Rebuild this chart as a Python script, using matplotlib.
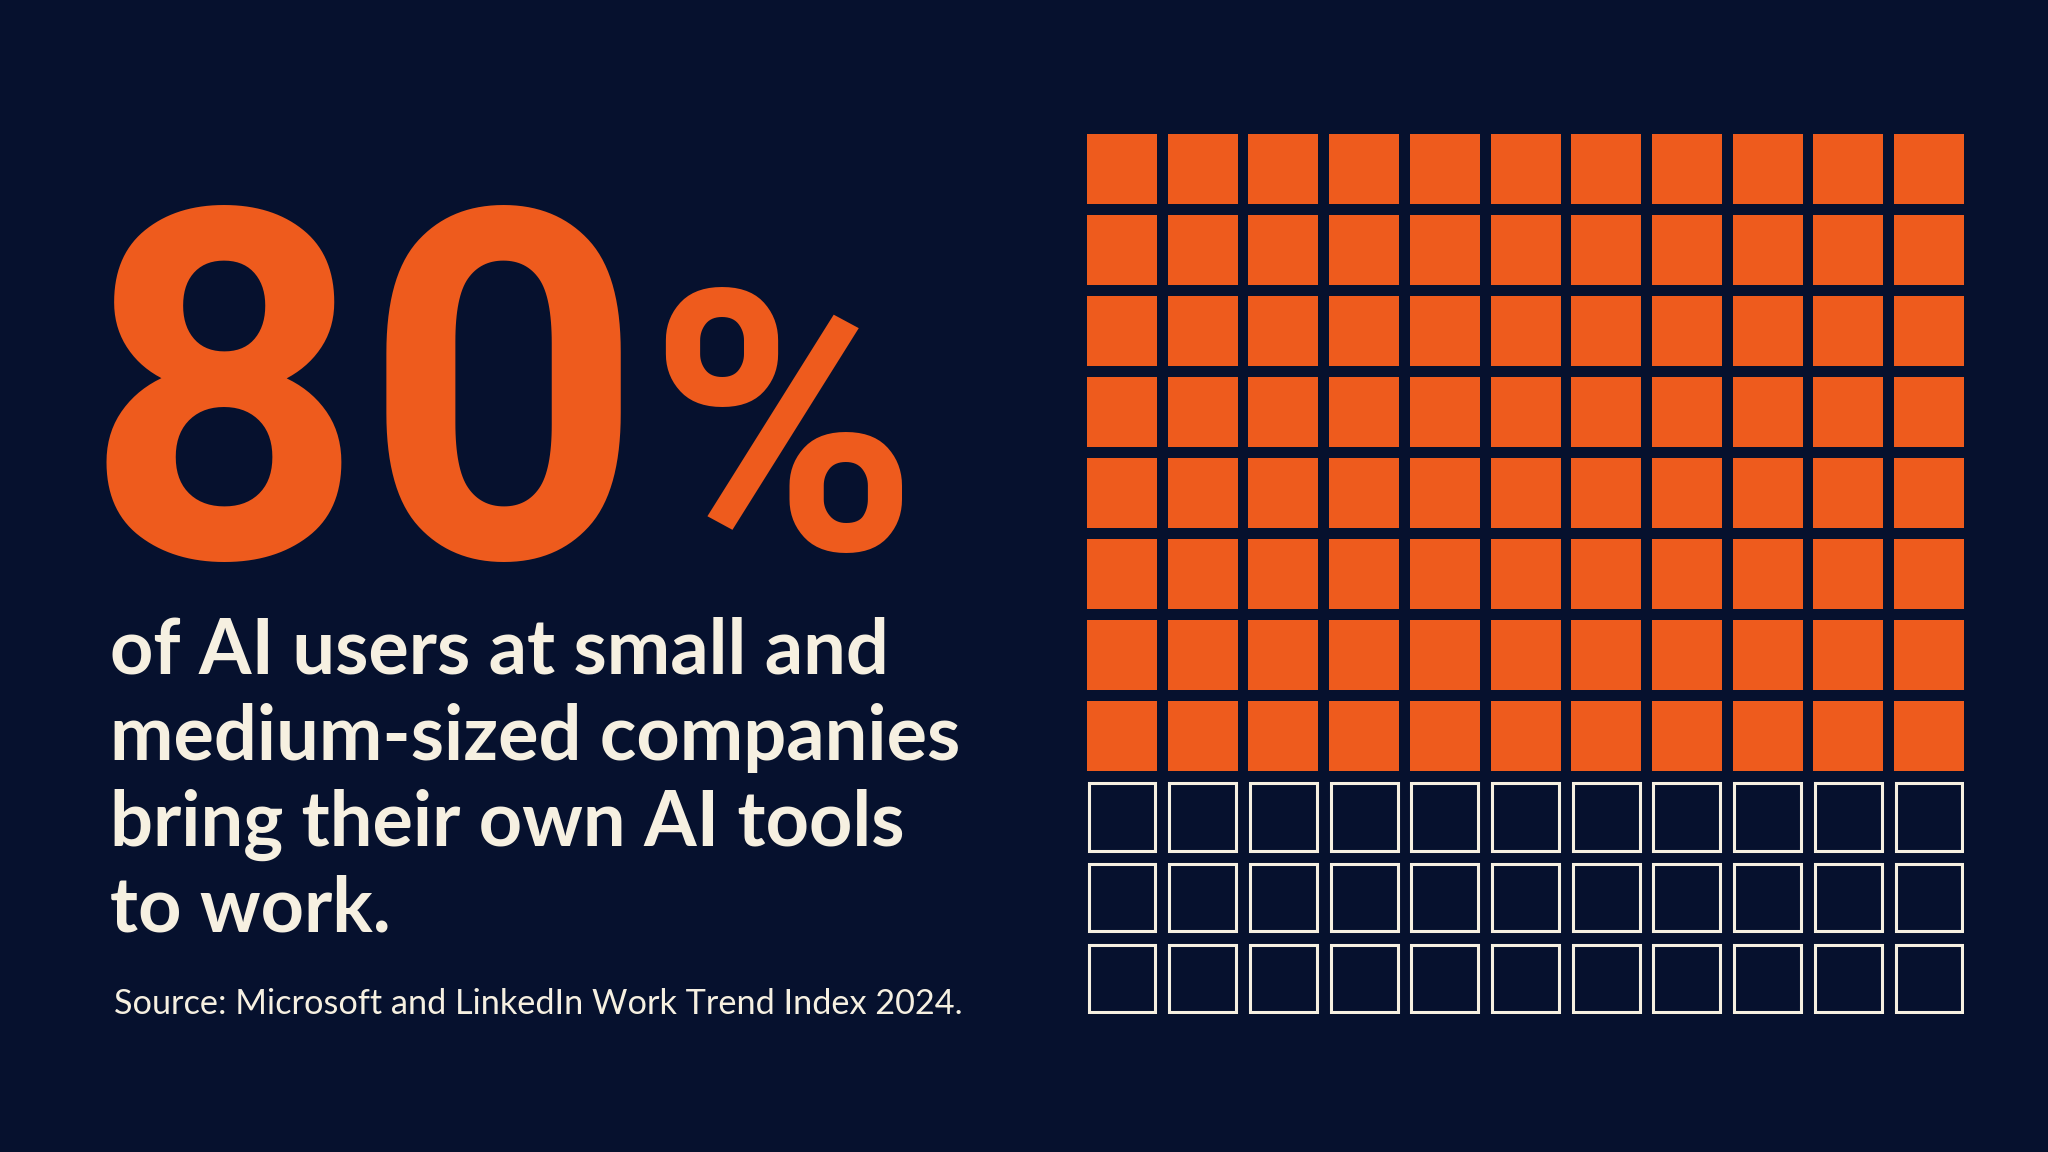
import matplotlib.pyplot as plt
from matplotlib.patches import Rectangle

# ---- data ----
headline_value = "80"
headline_unit = "%"
body_lines = [
    "of AI users at small and",
    "medium-sized companies",
    "bring their own AI tools",
    "to work.",
]
source_text = "Source: Microsoft and LinkedIn Work Trend Index 2024."
n_cols = 11
n_rows = 11
filled_cells = 88

# ---- style ----
BG = "#06112e"
ORANGE = "#ee5b1d"
CREAM = "#f6f0e1"
W, H = 2048, 1152

fig = plt.figure(figsize=(W / 100, H / 100), dpi=100)
fig.patch.set_facecolor(BG)


def fx(px):
    return px / W


def fy(py):
    return 1 - py / H


# big number
fig.text(fx(84), fy(557), headline_value, color=ORANGE, fontsize=352,
         fontfamily="Roboto", fontweight="bold", ha="left", va="baseline")
fig.text(fx(648), fy(549), headline_unit, color=ORANGE, fontsize=262,
         fontfamily="Roboto", fontweight="bold", ha="left", va="baseline")

# statement
line_pitch = 86
for i, line in enumerate(body_lines):
    fig.text(fx(110), fy(674 + i * line_pitch), line, color=CREAM, fontsize=54.5,
             fontfamily="Lato", fontweight="bold", ha="left", va="baseline")

fig.text(fx(114), fy(1014), source_text, color=CREAM, fontsize=24.7,
         fontfamily="Lato", ha="left", va="baseline")

# waffle grid
cell = 70 / 80.7
ax = fig.add_axes([fx(1087), fy(1014), fx(877), 880 / H])
ax.set_xlim(0, n_cols - 1 + cell)
ax.set_ylim(n_rows - 1 + cell, 0)
ax.axis("off")

inset = 0.019
for i in range(n_cols * n_rows):
    r, c = divmod(i, n_cols)
    if i < filled_cells:
        ax.add_patch(Rectangle((c, r), cell, cell, facecolor=ORANGE, edgecolor="none"))
    else:
        ax.add_patch(Rectangle((c + inset, r + inset), cell - 2 * inset, cell - 2 * inset,
                               facecolor="none", edgecolor=CREAM, linewidth=2.2))

fig.savefig("out.png", dpi=100, facecolor=BG)
